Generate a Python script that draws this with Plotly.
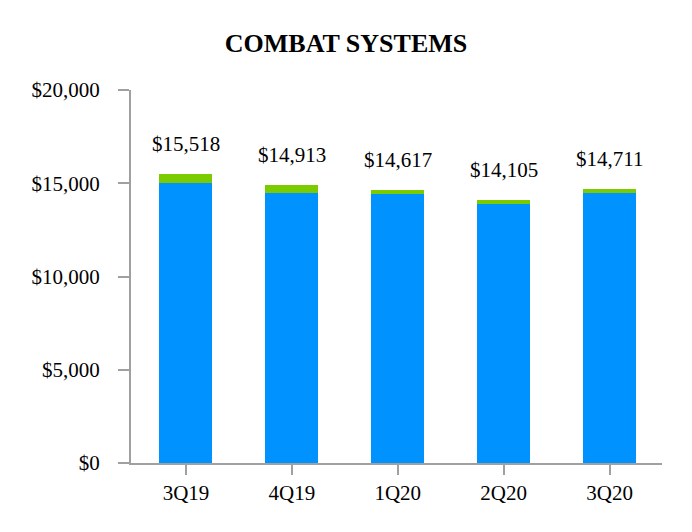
import plotly.graph_objects as go

categories = ["3Q19", "4Q19", "1Q20", "2Q20", "3Q20"]
totals = [15518, 14913, 14617, 14105, 14711]
blue_values = [15030, 14470, 14410, 13900, 14490]
green_values = [t - b for t, b in zip(totals, blue_values)]
total_labels = ["$15,518", "$14,913", "$14,617", "$14,105", "$14,711"]
y_ticks = [0, 5000, 10000, 15000, 20000]
y_tick_labels = ["$0", "$5,000", "$10,000", "$15,000", "$20,000"]

font_family = "Liberation Serif, Times New Roman, serif"
axis_color = "#A0A0A0"

fig = go.Figure()
fig.add_trace(go.Bar(x=categories, y=blue_values, marker_color="#0093FF",
                     marker_line_width=0, width=0.5, showlegend=False))
fig.add_trace(go.Bar(x=categories, y=green_values, marker_color="#7ACC00",
                     marker_line_width=0, width=0.5, showlegend=False))

for c, t, lab in zip(categories, totals, total_labels):
    fig.add_annotation(x=c, y=t, text=lab, showarrow=False, yanchor="bottom",
                       yshift=16, font=dict(family=font_family, size=21, color="#000"))

# extend the baseline slightly to the left of the value axis
fig.add_shape(type="line", xref="paper", yref="y", x0=-10/531, x1=0, y0=0, y1=0,
              line=dict(color=axis_color, width=2))

fig.update_layout(
    width=692, height=532,
    barmode="stack",
    paper_bgcolor="white", plot_bgcolor="white",
    margin=dict(l=123, r=38, t=82, b=77),
    title=dict(text="<b>COMBAT SYSTEMS</b>", x=338/692, xanchor="center", y=0.934, yanchor="middle",
               font=dict(family=font_family, size=26, color="#000")),
    xaxis=dict(range=[-0.519, 4.495], showline=True, linecolor=axis_color, linewidth=2,
               ticks="outside", ticklen=10, tickcolor=axis_color, tickwidth=2,
               tickfont=dict(family=font_family, size=21, color="#000"),
               showgrid=False, zeroline=False),
    yaxis=dict(range=[0, 20000], tickvals=y_ticks, ticktext=y_tick_labels,
               showline=True, linecolor=axis_color, linewidth=2,
               ticks="outside", ticklen=11, tickcolor=axis_color, tickwidth=2,
               ticklabelstandoff=14,
               tickfont=dict(family=font_family, size=21, color="#000"),
               showgrid=False, zeroline=False),
)

fig.write_html("out.html")
